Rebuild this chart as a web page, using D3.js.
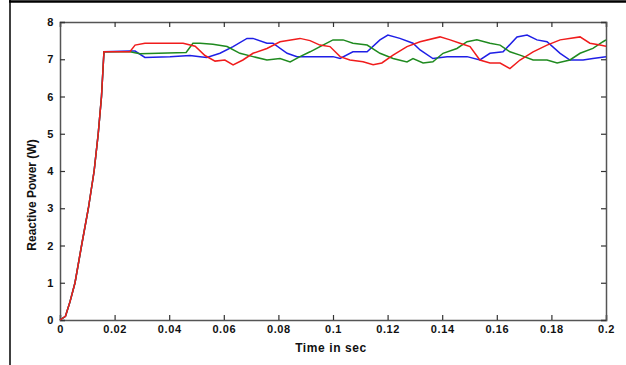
<!DOCTYPE html>
<html>
<head>
<meta charset="utf-8">
<script src="https://cdn.jsdelivr.net/npm/d3@7"></script>
<style>
  body { margin: 0; background: #fff; }
  svg text { font-family: "Liberation Sans", Arial, sans-serif; font-weight: bold; fill: #111; }
</style>
</head>
<body>
<div id="chart"></div>
<script>
// shared start-up ramp (all three phases sit on top of each other here)
var rampTime  = [0, 0.002, 0.0037, 0.0055, 0.0079, 0.0104, 0.0125, 0.014, 0.0152, 0.0161];
var rampPower = [0, 0.1, 0.5, 1, 2, 3, 4, 5, 6, 7.2];

// blue phase
var blueTime  = [0.0256, 0.0275, 0.0311, 0.0403, 0.0476, 0.0513, 0.0538, 0.0586, 0.0634, 0.0685, 0.0707, 0.0758, 0.0780, 0.0832, 0.0868, 0.1000, 0.1026, 0.1073, 0.1125, 0.1172, 0.1201, 0.1245, 0.1293, 0.1319, 0.1366, 0.1418, 0.1491, 0.1538, 0.1575, 0.1623, 0.1674, 0.1711, 0.1747, 0.1784, 0.1832, 0.1868, 0.1916, 0.1952, 0.2];
var bluePower = [7.22, 7.22, 7.05, 7.07, 7.1, 7.07, 7.05, 7.16, 7.34, 7.56, 7.56, 7.43, 7.43, 7.16, 7.07, 7.07, 7.02, 7.2, 7.2, 7.52, 7.65, 7.56, 7.43, 7.25, 7.02, 7.07, 7.07, 6.98, 7.16, 7.2, 7.6, 7.65, 7.52, 7.47, 7.16, 6.98, 6.98, 7.02, 7.07];

// green phase
var greenTime  = [0.0256, 0.0293, 0.0462, 0.0487, 0.0513, 0.0560, 0.0612, 0.0659, 0.0707, 0.0758, 0.0806, 0.0843, 0.0879, 0.0916, 0.0963, 0.1000, 0.1037, 0.1073, 0.1125, 0.1172, 0.1220, 0.1271, 0.1293, 0.1330, 0.1366, 0.1403, 0.1454, 0.1491, 0.1527, 0.1575, 0.1612, 0.1648, 0.1685, 0.1733, 0.1784, 0.1821, 0.1868, 0.1905, 0.1952, 0.1989, 0.2];
var greenPower = [7.2, 7.15, 7.18, 7.43, 7.43, 7.4, 7.34, 7.16, 7.07, 6.98, 7.02, 6.93, 7.07, 7.2, 7.38, 7.52, 7.52, 7.43, 7.38, 7.16, 7.02, 6.93, 7.02, 6.9, 6.93, 7.16, 7.29, 7.47, 7.52, 7.43, 7.38, 7.2, 7.11, 6.98, 6.98, 6.9, 6.98, 7.16, 7.29, 7.47, 7.52];

// red phase
var redTime  = [0.0256, 0.0275, 0.0311, 0.0451, 0.0495, 0.0531, 0.0568, 0.0604, 0.0634, 0.0670, 0.0707, 0.0758, 0.0806, 0.0879, 0.0916, 0.0952, 0.0989, 0.1026, 0.1062, 0.1110, 0.1147, 0.1179, 0.1220, 0.1271, 0.1319, 0.1392, 0.1429, 0.1465, 0.1502, 0.1538, 0.1575, 0.1612, 0.1648, 0.1685, 0.1733, 0.1784, 0.1832, 0.1905, 0.1941, 0.1978, 0.2];
var redPower = [7.2, 7.38, 7.43, 7.43, 7.35, 7.1, 6.95, 6.98, 6.85, 6.98, 7.16, 7.29, 7.47, 7.56, 7.5, 7.38, 7.34, 7.07, 6.98, 6.93, 6.85, 6.9, 7.11, 7.34, 7.47, 7.6, 7.52, 7.43, 7.34, 6.98, 6.9, 6.9, 6.75, 6.98, 7.2, 7.38, 7.52, 7.6, 7.43, 7.38, 7.35];

var xTicks = [0, 0.02, 0.04, 0.06, 0.08, 0.1, 0.12, 0.14, 0.16, 0.18, 0.2];
var yTicks = [0, 1, 2, 3, 4, 5, 6, 7, 8];

var width = 626, height = 365;
var plotLeft = 60, plotRight = 606, plotTop = 22, plotBottom = 320;

var svg = d3.select("#chart")
  .append("svg")
  .attr("width", width)
  .attr("height", height);

// page frame lines (top and left)
svg.append("line").attr("x1", 9).attr("x2", width).attr("y1", 1.5).attr("y2", 1.5)
  .style("stroke", "#000").style("stroke-width", 2.5);
svg.append("line").attr("x1", 10).attr("x2", 10).attr("y1", 0).attr("y2", height)
  .style("stroke", "#000").style("stroke-width", 1.5);

var x = d3.scaleLinear().domain([0, 0.2]).range([plotLeft, plotRight]);
var y = d3.scaleLinear().domain([0, 8]).range([plotBottom, plotTop]);

function fmt(d) { return d === 0 ? "0" : String(+d.toFixed(2)); }

// axes, ticks pointing into the plot
var axisColor = "#555";
var xb = svg.append("g").attr("transform", "translate(0," + plotBottom + ")")
  .call(d3.axisBottom(x).tickValues(xTicks).tickSize(-5).tickPadding(5).tickFormat(fmt));
var xt = svg.append("g").attr("transform", "translate(0," + plotTop + ")")
  .call(d3.axisTop(x).tickValues(xTicks).tickSize(-5).tickFormat(""));
var yl = svg.append("g").attr("transform", "translate(" + plotLeft + ",0)")
  .call(d3.axisLeft(y).tickValues(yTicks).tickSize(-5).tickPadding(6));
var yr = svg.append("g").attr("transform", "translate(" + plotRight + ",0)")
  .call(d3.axisRight(y).tickValues(yTicks).tickSize(-5).tickFormat(""));

[xb, xt, yl, yr].forEach(function(g) {
  g.select(".domain").style("stroke", axisColor).style("stroke-width", 1.5);
  g.selectAll(".tick line").style("stroke", "#333").style("stroke-width", 1.2);
  g.selectAll("text").style("font-size", "11px").style("font-weight", "bold")
    .style("letter-spacing", "0.6px")
    .style("font-family", "'Liberation Sans', Arial, sans-serif").attr("fill", "#111");
});

function series(t, v) {
  var pts = rampTime.map(function(d, i) { return [d, rampPower[i]]; });
  t.forEach(function(d, i) { pts.push([d, v[i]]); });
  return pts;
}

var line = d3.line()
  .x(function(d) { return x(d[0]); })
  .y(function(d) { return y(d[1]); });

var lines = [
  { pts: series(blueTime, bluePower), color: "#1f1fe6" },
  { pts: series(greenTime, greenPower), color: "#1f8a1f" },
  { pts: series(redTime, redPower), color: "#f01c1c" }
];

svg.selectAll(".phase")
  .data(lines)
  .enter().append("path")
  .attr("class", "phase")
  .attr("d", function(d) { return line(d.pts); })
  .style("fill", "none")
  .style("stroke", function(d) { return d.color; })
  .style("stroke-width", 1.5);

// axis titles
svg.append("text")
  .attr("x", 331).attr("y", 352)
  .attr("text-anchor", "middle")
  .style("font-size", "12px")
  .style("letter-spacing", "0.6px")
  .text("Time in sec");

svg.append("text")
  .attr("transform", "translate(36,195) rotate(-90)")
  .attr("text-anchor", "middle")
  .style("font-size", "12px")
  .text("Reactive Power (W)");
</script>
</body>
</html>
